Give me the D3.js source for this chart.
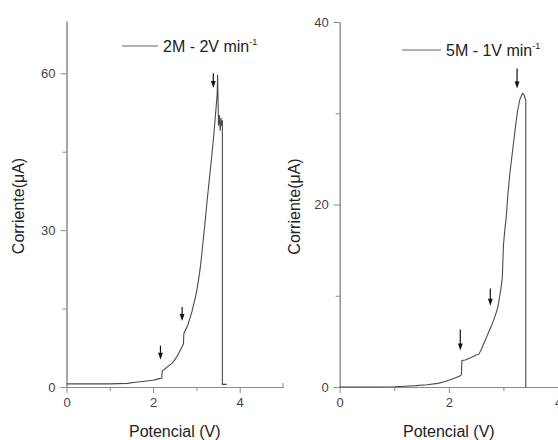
<!DOCTYPE html>
<html>
  <head>
    <meta charset="utf-8">
    <title>Corriente vs potencial</title>
    <script src="https://d3js.org/d3.v7.min.js"></script>
    <style>
      body { margin: 0; background: #fff; }
      svg { font-family: "Liberation Sans", Arial, sans-serif; }
      .axis path, .axis line { stroke: #8a8a8a; }
      .axis text { fill: #444; font-size: 13px; font-family: "Liberation Sans", Arial, sans-serif; }
      .label { fill: #222; font-size: 16px; }
      .trace { fill: none; stroke: #4a4a4a; stroke-width: 1.1; }
      .arrow { stroke: #111; stroke-width: 1.2; }
      .head { fill: #111; }
    </style>
  </head>
  <body>
    <svg id="chart" width="558" height="440"></svg>
    <script>
      // 2M - 2V/min trace (potential V, current uA)
      var leftV = [0, 0.5, 1.0, 1.4, 1.6, 1.8, 2.0, 2.1, 2.2, 2.21, 2.25, 2.35, 2.45, 2.55, 2.65, 2.7, 2.71, 2.8, 2.9, 3.0,
        3.05, 3.1, 3.15, 3.2, 3.25, 3.3, 3.35, 3.4, 3.45, 3.48, 3.49, 3.5, 3.51, 3.53, 3.55, 3.57, 3.58, 3.6, 3.6, 3.7];
      var leftI = [0.6, 0.6, 0.6, 0.7, 0.9, 1.1, 1.3, 1.5, 1.7, 3.1, 3.3, 4.0, 4.6, 5.8, 7.4, 8.2, 10.2, 11.8, 14.5, 18.0,
        20.5, 23.5, 27.5, 31.5, 35.8, 39.8, 43.8, 48.0, 53.0, 56.0, 59.7, 55.0, 50.0, 52.0, 49.0, 51.5, 50.0, 51.0, 0.5, 0.5];
      // 5M - 1V/min trace
      var rightV = [0, 0.5, 1.0, 1.2, 1.4, 1.6, 1.8, 1.9, 2.0, 2.1, 2.2, 2.23, 2.24, 2.3, 2.4, 2.5, 2.55, 2.6, 2.65, 2.7,
        2.75, 2.8, 2.85, 2.9, 2.95, 2.98, 3.0, 3.03, 3.05, 3.08, 3.12, 3.17, 3.22, 3.26, 3.3, 3.35, 3.38, 3.41, 3.41];
      var rightI = [0, 0, 0.02, 0.08, 0.15, 0.25, 0.4, 0.55, 0.75, 0.95, 1.2, 1.35, 2.9, 2.95, 3.2, 3.5, 3.6, 4.2, 4.9, 5.6,
        6.3, 7.0, 7.8, 8.8, 10.6, 12.0, 15.5, 17.5, 18.5, 21.0, 23.5, 26.0, 28.5, 30.3, 31.5, 32.2, 32.0, 31.4, 0];
      // arrows: [V, current at top of shaft, current at tip]
      var leftArrows = [[3.39, 60.0, 57.2], [2.67, 15.3, 12.6], [2.17, 7.9, 5.2]];
      var rightArrows = [[3.25, 34.9, 32.7], [2.76, 10.8, 8.9], [2.21, 6.3, 4.0]];
      var leftTicksX = [0, 2, 4], leftMinorX = [1, 3];
      var leftTicksY = [0, 30, 60], leftMinorY = [15, 45];
      var rightTicksX = [0, 2, 4], rightMinorX = [1, 3];
      var rightTicksY = [0, 20, 40], rightMinorY = [10, 30];
      var xTitle = "Potencial (V)";
      var yTitle = "Corriente(\u03bcA)";

      var svg = d3.select("#chart");

      function panel(o) {
        var g = svg.append("g");
        var x = d3.scaleLinear().domain(o.xDomain).range(o.xRange);
        var y = d3.scaleLinear().domain(o.yDomain).range(o.yRange);
        var x0 = o.xRange[0], y0 = o.yRange[0];
        var fmt = d3.format("d");

        // axes
        g.append("g").attr("class", "axis").attr("transform", "translate(0," + y0 + ")")
          .call(d3.axisBottom(x).tickValues(o.ticksX).tickFormat(fmt).tickSize(6).tickSizeOuter(0).tickPadding(5));
        g.append("g").attr("class", "axis").attr("transform", "translate(0," + y0 + ")")
          .call(d3.axisBottom(x).tickValues(o.minorX).tickSize(4).tickSizeOuter(0).tickFormat(""));
        g.append("g").attr("class", "axis").attr("transform", "translate(" + x0 + ",0)")
          .call(d3.axisLeft(y).tickValues(o.ticksY).tickFormat(fmt).tickSize(6).tickSizeOuter(0).tickPadding(5));
        g.append("g").attr("class", "axis").attr("transform", "translate(" + x0 + ",0)")
          .call(d3.axisLeft(y).tickValues(o.minorY).tickSize(4).tickSizeOuter(0).tickFormat(""));
        if (o.endTick) {
          g.append("line")
            .attr("x1", x(o.xDomain[1])).attr("x2", x(o.xDomain[1]))
            .attr("y1", y0).attr("y2", y0 - 4)
            .style("stroke", "#8a8a8a");
        }

        // trace
        var pts = o.v.map(function(d, i) { return [d, o.i[i]]; });
        g.append("path").attr("class", "trace")
          .attr("d", d3.line().x(function(d) { return x(d[0]); }).y(function(d) { return y(d[1]); })(pts));

        // arrows
        o.arrows.forEach(function(a) {
          var ax = x(a[0]), top = y(a[1]), tip = y(a[2]);
          g.append("line").attr("class", "arrow")
            .attr("x1", ax).attr("x2", ax).attr("y1", top).attr("y2", tip - 4);
          g.append("path").attr("class", "head")
            .attr("d", "M" + (ax - 2.4) + "," + (tip - 7) + "L" + (ax + 2.4) + "," + (tip - 7) + "L" + ax + "," + tip + "Z");
        });

        // legend
        g.append("line").attr("x1", o.legend[0]).attr("x2", o.legend[0] + o.legend[2])
          .attr("y1", o.legend[1]).attr("y2", o.legend[1])
          .style("stroke", "#666").style("stroke-width", 1);
        var t = g.append("text").attr("class", "label")
          .attr("x", o.legend[0] + o.legend[2] + 5).attr("y", o.legend[1] + 6);
        t.append("tspan").text(o.name + " min");
        t.append("tspan").attr("dy", -7).style("font-size", "9px").text("-1");

        // titles
        g.append("text").attr("class", "label").attr("text-anchor", "middle")
          .attr("x", (o.xRange[0] + o.xRange[1]) / 2).attr("y", 437).text(xTitle);
        g.append("text").attr("class", "label").attr("text-anchor", "middle")
          .attr("transform", "translate(" + o.yTitleX + "," + ((o.yRange[0] + o.yRange[1]) / 2 + 2) + ") rotate(-90)")
          .text(yTitle);
      }

      panel({
        xDomain: [0, 5], xRange: [66.5, 283], yDomain: [0, 70], yRange: [387, 21],
        ticksX: leftTicksX, minorX: leftMinorX, ticksY: leftTicksY, minorY: leftMinorY,
        v: leftV, i: leftI, arrows: leftArrows, endTick: true,
        legend: [122, 46, 36], name: "2M - 2V", yTitleX: 24
      });
      panel({
        xDomain: [0, 4], xRange: [339.7, 558], yDomain: [0, 40], yRange: [387, 22],
        ticksX: rightTicksX, minorX: rightMinorX, ticksY: rightTicksY, minorY: rightMinorY,
        v: rightV, i: rightI, arrows: rightArrows, endTick: false,
        legend: [402, 50, 39], name: "5M - 1V", yTitleX: 300
      });
    </script>
  </body>
</html>
